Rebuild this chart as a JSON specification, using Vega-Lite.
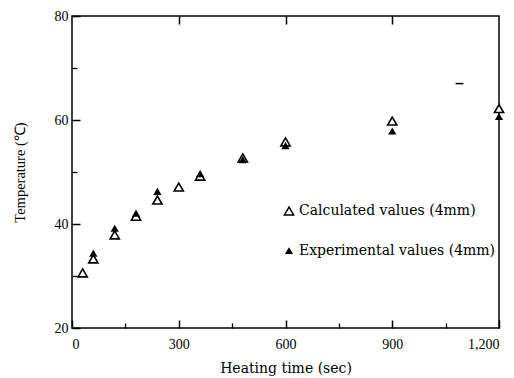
{
  "$schema": "https://vega.github.io/schema/vega-lite/v6.json",
  "autosize": "none",
  "width": 427,
  "height": 312,
  "padding": {"left": 72, "top": 16, "right": 15, "bottom": 50},
  "background": "white",
  "config": {
    "view": {"stroke": "black", "strokeWidth": 1.5},
    "font": "Liberation Serif",
    "axis": {"grid": false, "domain": false, "tickColor": "black", "labelColor": "black", "titleColor": "black", "labelFont": "Liberation Serif", "titleFont": "Liberation Serif", "labelFontSize": 14, "titleFontSize": 14, "titleFontWeight": "normal"},
    "legend": {"orient": "none", "legendX": 210, "legendY": 188, "padding": 0, "rowPadding": 26, "labelFont": "DejaVu Serif", "labelFontSize": 14, "labelColor": "black", "labelOffset": 3, "title": null, "labelLimit": 300}
  },
  "datasets": {
    "pts": [
      {"t": 30, "temp": 30.6, "series": "Calculated values (4mm)"},
      {"t": 60, "temp": 33.3, "series": "Calculated values (4mm)"},
      {"t": 120, "temp": 37.9, "series": "Calculated values (4mm)"},
      {"t": 180, "temp": 41.5, "series": "Calculated values (4mm)"},
      {"t": 240, "temp": 44.6, "series": "Calculated values (4mm)"},
      {"t": 300, "temp": 47.1, "series": "Calculated values (4mm)"},
      {"t": 360, "temp": 49.2, "series": "Calculated values (4mm)"},
      {"t": 480, "temp": 52.7, "series": "Calculated values (4mm)"},
      {"t": 600, "temp": 55.8, "series": "Calculated values (4mm)"},
      {"t": 900, "temp": 59.8, "series": "Calculated values (4mm)"},
      {"t": 1200, "temp": 62.2, "series": "Calculated values (4mm)"},
      {"t": 60, "temp": 34.3, "series": "Experimental values (4mm)"},
      {"t": 120, "temp": 39.1, "series": "Experimental values (4mm)"},
      {"t": 180, "temp": 42.0, "series": "Experimental values (4mm)"},
      {"t": 240, "temp": 46.2, "series": "Experimental values (4mm)"},
      {"t": 360, "temp": 49.6, "series": "Experimental values (4mm)"},
      {"t": 480, "temp": 52.3, "series": "Experimental values (4mm)"},
      {"t": 600, "temp": 55.0, "series": "Experimental values (4mm)"},
      {"t": 900, "temp": 57.8, "series": "Experimental values (4mm)"},
      {"t": 1200, "temp": 60.6, "series": "Experimental values (4mm)"}
    ],
    "dash": [{"t1": 1078, "t2": 1100, "temp": 67}]
  },
  "layer": [
    {
      "data": {"name": "pts"},
      "mark": {"type": "point", "filled": true, "stroke": "black", "strokeWidth": 1.6, "opacity": 1},
      "encoding": {
        "x": {"field": "t", "type": "quantitative", "scale": {"domain": [0, 1200], "nice": false, "zero": false},
          "axis": {"orient": "bottom", "values": [0, 300, 600, 900, 1200], "format": ",d", "tickSize": -8, "tickWidth": 1.5, "labelPadding": 17, "title": "Heating time (sec)", "titleFont": "DejaVu Serif", "titleFontSize": 14, "titlePadding": 10}},
        "y": {"field": "temp", "type": "quantitative", "scale": {"domain": [20, 80], "nice": false, "zero": false},
          "axis": {"orient": "left", "values": [20, 40, 60, 80], "tickSize": -8, "tickWidth": 1.5, "labelPadding": 12, "title": "Temperature (℃)", "titleFontSize": 14.5, "titlePadding": 27}},
        "shape": {"field": "series", "type": "nominal", "scale": {"range": ["triangle-up", "triangle-up"]},
          "legend": {"title": null, "encode": {"symbols": {"update": {"stroke": {"value": "black"}, "strokeWidth": {"value": 1.6}}}}}},
        "fill": {"field": "series", "type": "nominal", "scale": {"range": ["white", "black"]},
          "legend": {"title": null, "encode": {"symbols": {"update": {"stroke": {"value": "black"}, "strokeWidth": {"value": 1.6}}}}}},
        "size": {"field": "series", "type": "nominal", "scale": {"range": [85, 30]},
          "legend": {"title": null, "encode": {"symbols": {"update": {"stroke": {"value": "black"}, "strokeWidth": {"value": 1.6}}}}}},
        "order": {"field": "series", "sort": "ascending"}
      }
    },
    {
      "data": {"name": "dash"},
      "mark": {"type": "rule", "stroke": "black", "strokeWidth": 1.5},
      "encoding": {
        "x": {"field": "t1", "type": "quantitative",
          "axis": {"orient": "top", "values": [300, 600, 900], "labels": false, "tickSize": -8, "tickWidth": 1.5, "title": null}},
        "x2": {"field": "t2"},
        "y": {"field": "temp", "type": "quantitative",
          "axis": {"orient": "left", "values": [30, 50, 70], "labels": false, "tickSize": -5, "tickWidth": 1.3, "title": null}}
      }
    },
    {
      "data": {"name": "dash"},
      "mark": {"type": "rule", "opacity": 0},
      "encoding": {
        "x": {"field": "t1", "type": "quantitative",
          "axis": {"orient": "bottom", "values": [150, 450, 750, 1050], "labels": false, "tickSize": -5, "tickWidth": 1.3, "title": null}},
        "x2": {"field": "t2"},
        "y": {"field": "temp", "type": "quantitative", "axis": null}
      }
    }
  ],
  "resolve": {"axis": {"x": "independent", "y": "independent"}}
}
